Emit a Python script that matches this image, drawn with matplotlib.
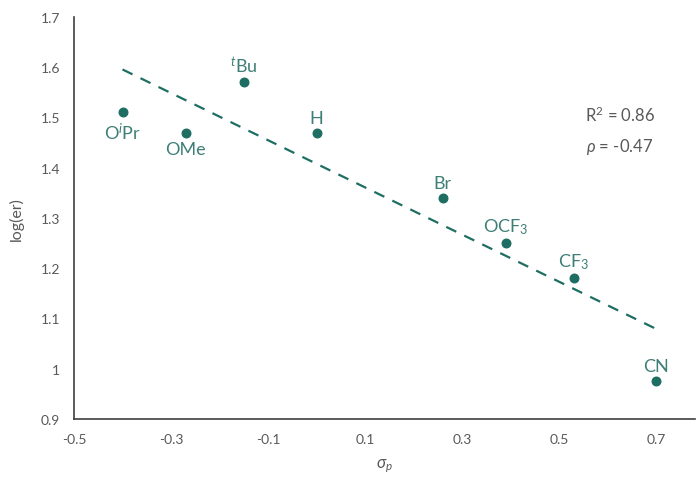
import numpy as np
import matplotlib.pyplot as plt

# данные: заместители, сигма-пара и log(er)
labels = ['O$^{i}$Pr', 'OMe', '$^{t}$Bu', 'H', 'Br', 'OCF$_3$', 'CF$_3$', 'CN']
sigma_p = [-0.40, -0.27, -0.15, 0.00, 0.26, 0.39, 0.53, 0.70]
log_er = [1.51, 1.47, 1.57, 1.47, 1.34, 1.25, 1.18, 0.975]
label_pos = ['below', 'below', 'above', 'above', 'above', 'above', 'above', 'above']

teal = '#1e6e63'
text_teal = '#3d7f77'
gray = '#595959'

plt.rcParams['font.family'] = ['Lato', 'DejaVu Sans']
plt.rcParams['mathtext.fontset'] = 'custom'
plt.rcParams['mathtext.rm'] = 'Lato'
plt.rcParams['mathtext.it'] = 'Lato:italic'
plt.rcParams['axes.unicode_minus'] = False

fig = plt.figure(figsize=(6.99, 4.81), dpi=100)
ax = fig.add_axes([74/699, 61/481, (695-74)/699, (420-18)/481])

# линия тренда
k, b = np.polyfit(sigma_p, log_er, 1)
xt = np.array([min(sigma_p), max(sigma_p)])
ax.plot(xt, k*xt + b, '--', color=teal, lw=1.6, dashes=(5, 4))

ax.scatter(sigma_p, log_er, s=38, color=teal, zorder=3)

for x, y, lab, pos in zip(sigma_p, log_er, labels, label_pos):
    if pos == 'below':
        ax.annotate(lab, (x, y), xytext=(0, -6), textcoords='offset points',
                    ha='center', va='top', color=text_teal, fontsize=13)
    else:
        ax.annotate(lab, (x, y), xytext=(0, 5), textcoords='offset points',
                    ha='center', va='bottom', color=text_teal, fontsize=13)

ax.text(0.625, 1.507, 'R$^2$ = 0.86', ha='center', va='center', color=gray, fontsize=12)
ax.text(0.625, 1.443, '$\\rho$ = -0.47', ha='center', va='center', color=gray, fontsize=12)

ax.set_xlim(-0.5, 0.78)
ax.set_ylim(0.9, 1.7)
ax.set_xticks([-0.5, -0.3, -0.1, 0.1, 0.3, 0.5, 0.7])
ax.set_yticks([0.9, 1.0, 1.1, 1.2, 1.3, 1.4, 1.5, 1.6, 1.7])
ax.set_yticklabels(['0.9', '1', '1.1', '1.2', '1.3', '1.4', '1.5', '1.6', '1.7'])
ax.tick_params(length=0, colors=gray, labelsize=10, pad=10)
ax.spines['top'].set_visible(False)
ax.spines['right'].set_visible(False)
for s in ['left', 'bottom']:
    ax.spines[s].set_color('#404040')
    ax.spines[s].set_linewidth(1.2)

ax.set_xlabel('$\\sigma_p$', color=gray, fontsize=12, labelpad=8)
ax.set_ylabel('log(er)', color=gray, fontsize=11.5, labelpad=12)

fig.savefig('out.png', dpi=100)
